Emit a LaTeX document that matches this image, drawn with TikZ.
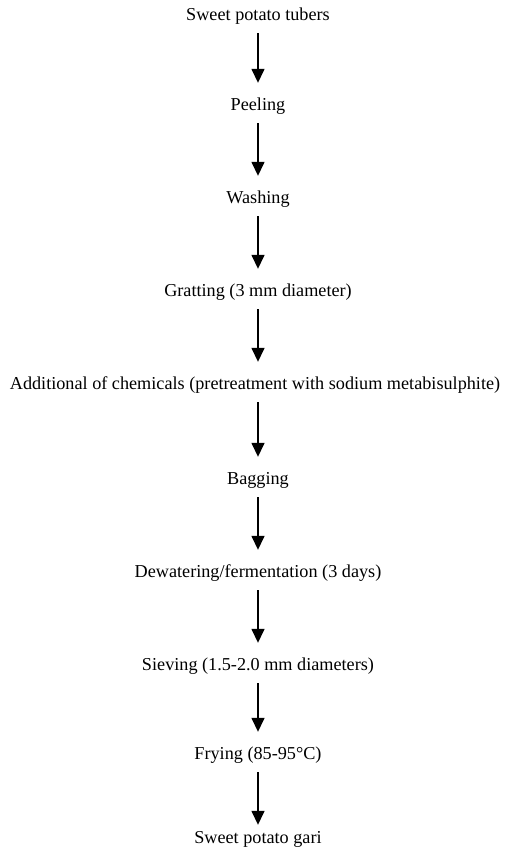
\documentclass[tikz,border=0pt]{standalone}
\usepackage{fontspec}
\setmainfont{Liberation Serif}
\usetikzlibrary{arrows.meta}

\begin{document}
\begin{tikzpicture}[x=1pt,y=1pt,
  lb/.style={font=\fontsize{18.2}{20}\selectfont,anchor=base,inner sep=0pt,text height=12pt,text depth=4pt},
  flow/.style={line width=1.5pt,-{Triangle[width=13pt,length=14pt]},shorten <=9pt,shorten >=15pt}]
\useasboundingbox (0,0) rectangle (508,-847);
\foreach \n/\x/\y/\lab in {1/258/20/Sweet potato tubers,2/258/110/Peeling,3/258/203/Washing,
  4/258/296/Gratting (3 mm diameter),
  5/255/389/Additional of chemicals (pretreatment with sodium metabisulphite),
  6/258/484/Bagging,7/258/577/{Dewatering/fermentation (3 days)},
  8/258/670/Sieving (1.5-2.0 mm diameters),9/258/759/Frying (85-95°C),
  10/258/843/Sweet potato gari}{
  \node[lb] (s\n) at (\x,-\y) {\lab};
}
\foreach \a/\b in {1/2,2/3,3/4,4/5,5/6,6/7,7/8,8/9}{
  \draw[flow] (s\a.south -| s1) -- (s\b.north -| s1);
}
\draw[flow,shorten >=6pt] (s9) -- (s10);
\end{tikzpicture}
\end{document}
